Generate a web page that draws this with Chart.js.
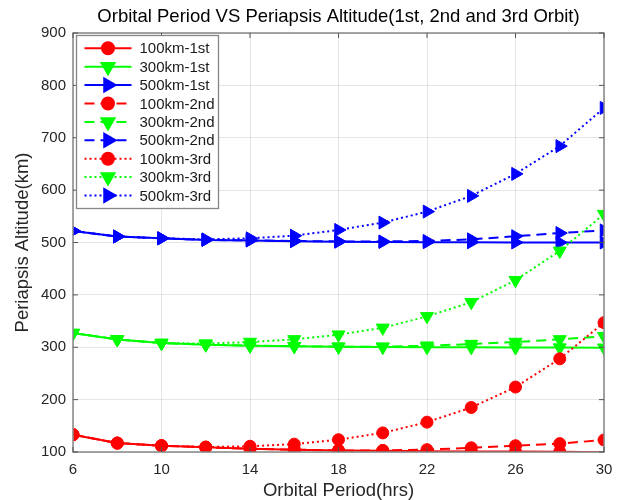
<!DOCTYPE html>
<html>
<head>
<meta charset="utf-8">
<script src="https://cdn.jsdelivr.net/npm/chart.js@4.4.1/dist/chart.umd.min.js"></script>
<style>
  body { margin: 0; background: #fff; }
</style>
</head>
<body>
<canvas id="chart" width="622" height="500"></canvas>
<script>
// --- data ---
const periods = [6, 8, 10, 12, 14, 16, 18, 20, 22, 24, 26, 28, 30];

const alt100_1st = [133, 117, 112, 109, 106, 104.5, 103, 102.5, 101.5, 101, 100.8, 100.6, 99.6];
const alt300_1st = [327, 315, 308, 305, 303, 302, 301, 300.5, 300, 300, 299.5, 299.3, 299];
const alt500_1st = [522, 511.5, 508, 505, 504, 502.5, 501.5, 501, 500.5, 500.3, 500, 500, 500];

const alt100_2nd = [133, 117, 112, 109, 106, 104.5, 103, 103, 104.5, 108, 112, 116, 123];
const alt300_2nd = [327, 315, 308, 305, 303, 302, 301, 301, 303, 306, 310, 315, 321];
const alt500_2nd = [522, 511.5, 508, 505, 504, 503, 502, 502, 503, 506, 512, 518, 523];

const alt100_3rd = [133, 117, 112, 109.5, 111, 115, 123.5, 136.5, 157, 185, 224, 278, 347];
const alt300_3rd = [327, 315, 308, 307, 310, 315, 324, 337, 359, 386, 428, 484, 554];
const alt500_3rd = [522, 511.5, 508, 506, 508, 513, 524, 538, 559, 589, 631, 684, 757];

const seriesNames = ['100km-1st', '300km-1st', '500km-1st', '100km-2nd', '300km-2nd', '500km-2nd', '100km-3rd', '300km-3rd', '500km-3rd'];
const seriesValues = [alt100_1st, alt300_1st, alt500_1st, alt100_2nd, alt300_2nd, alt500_2nd, alt100_3rd, alt300_3rd, alt500_3rd];

const xTicks = [6, 10, 14, 18, 22, 26, 30];
const yMin = 100, yMax = 900;

// --- styles ---
const colors = ['#ff0000', '#00ff00', '#0000ff'];
const dashes = [[], [10, 6], [2, 3]];
const markers = [
    { style: 'circle', radius: 6, rotation: 0 },
    { style: 'triangle', radius: 7.5, rotation: 180 },
    { style: 'triangle', radius: 7.5, rotation: 90 }
];
const FONT = '"Liberation Sans", Arial, Helvetica, sans-serif';

const datasets = seriesNames.map((name, i) => {
    const c = colors[i % 3], m = markers[i % 3];
    return {
        label: name,
        data: periods.map((p, j) => ({ x: p, y: seriesValues[i][j] })),
        borderColor: c,
        backgroundColor: c,
        borderWidth: 2,
        borderDash: dashes[Math.floor(i / 3)],
        pointStyle: m.style,
        pointRotation: m.rotation,
        // like matlab, no marker for a point outside the axis limits
        pointRadius: ctx => (ctx.raw && ctx.raw.y < yMin ? 0 : m.radius),
        pointBorderWidth: 1,
        pointBackgroundColor: c,
        pointBorderColor: c,
        pointHoverRadius: m.radius,
        tension: 0,
        order: seriesNames.length - 1 - i
    };
});

// frame, inward ticks, title and legend, drawn the matlab way
const frame = {
    id: 'frame',
    afterDraw(chart) {
        const { ctx, chartArea: a, scales } = chart;
        ctx.save();
        // box
        ctx.strokeStyle = '#868686';
        ctx.lineWidth = 1.5;
        ctx.strokeRect(a.left, a.top, a.right - a.left, a.bottom - a.top);
        // ticks inward
        ctx.lineWidth = 1;
        ctx.strokeStyle = '#555';
        ctx.beginPath();
        xTicks.forEach(t => {
            const x = scales.x.getPixelForValue(t);
            ctx.moveTo(x, a.bottom); ctx.lineTo(x, a.bottom - 5);
            ctx.moveTo(x, a.top); ctx.lineTo(x, a.top + 5);
        });
        for (let v = yMin; v <= yMax; v += 100) {
            const y = scales.y.getPixelForValue(v);
            ctx.moveTo(a.left, y); ctx.lineTo(a.left + 5, y);
            ctx.moveTo(a.right, y); ctx.lineTo(a.right - 5, y);
        }
        ctx.stroke();

        // title
        ctx.fillStyle = '#000';
        ctx.font = '18.5px ' + FONT;
        ctx.textAlign = 'center';
        ctx.textBaseline = 'middle';
        ctx.fillText('Orbital Period VS Periapsis Altitude(1st, 2nd and 3rd Orbit)', (a.left + a.right) / 2, 17);

        // legend
        const lx = a.left + 3.5, ly = a.top + 2.5, lw = 142, lh = 173, rowH = 18.4;
        ctx.fillStyle = '#fff';
        ctx.fillRect(lx, ly, lw, lh);
        ctx.strokeStyle = '#868686';
        ctx.lineWidth = 1.3;
        ctx.strokeRect(lx, ly, lw, lh);
        chart.data.datasets.forEach((ds, i) => {
            const y = ly + 12.8 + i * rowH;
            const x0 = lx + 8, x1 = lx + 55, xm = (x0 + x1) / 2;
            ctx.strokeStyle = ds.borderColor;
            ctx.lineWidth = 2;
            ctx.setLineDash(ds.borderDash);
            ctx.beginPath();
            ctx.moveTo(x0, y); ctx.lineTo(x1, y);
            ctx.stroke();
            ctx.setLineDash([]);
            const m = markers[i % 3];
            Chart.helpers.drawPoint(ctx, {
                pointStyle: m.style, rotation: m.rotation, radius: m.radius, borderWidth: 1
            }, xm, y);
            ctx.fillStyle = ds.borderColor;
            ctx.fill();
            ctx.fillStyle = '#1a1a1a';
            ctx.font = '15px ' + FONT;
            ctx.textAlign = 'left';
            ctx.fillText(ds.label, lx + 63, y + 1);
        });
        ctx.restore();
    }
};

new Chart(document.getElementById('chart').getContext('2d'), {
    type: 'line',
    data: { datasets },
    options: {
        responsive: false,
        animation: false,
        layout: { padding: { top: 33, right: 18, left: 0, bottom: 0 } },
        plugins: { legend: { display: false }, title: { display: false }, tooltip: { enabled: false } },
        scales: {
            x: {
                type: 'linear', min: 6, max: 30,
                afterBuildTicks: s => { s.ticks = xTicks.map(v => ({ value: v })); },
                afterFit: s => { s.height = 48; },
                ticks: { color: '#262626', font: { size: 15, family: FONT }, padding: 9, maxRotation: 0 },
                grid: { color: 'rgba(0,0,0,0.1)', drawTicks: false },
                border: { display: false },
                title: { display: true, text: 'Orbital Period(hrs)', color: '#262626', font: { size: 18.5, family: FONT, lineHeight: 1 }, padding: { top: 0, bottom: 0 } }
            },
            y: {
                type: 'linear', min: yMin, max: yMax,
                ticks: { stepSize: 100, color: '#262626', font: { size: 15, family: FONT }, padding: 7 },
                afterFit: s => { s.width = 73; },
                grid: { color: 'rgba(0,0,0,0.1)', drawTicks: false },
                border: { display: false },
                title: { display: true, text: 'Periapsis Altitude(km)', color: '#262626', font: { size: 18.5, family: FONT, lineHeight: 1 }, padding: { top: 14, bottom: 0 } }
            }
        }
    },
    plugins: [frame]
});
</script>
</body>
</html>
